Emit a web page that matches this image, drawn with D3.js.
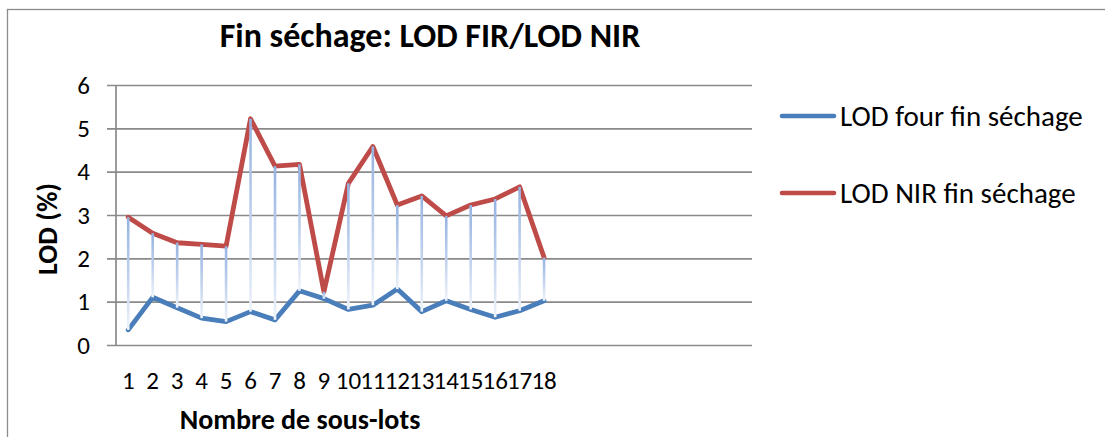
<!DOCTYPE html>
<html>
<head>
<meta charset="utf-8">
<script src="https://cdn.jsdelivr.net/npm/d3@7"></script>
<style>
  body { margin: 0; background: #fff; }
  svg { display: block; font-family: Carlito, Lato, "Liberation Sans", sans-serif; }
</style>
</head>
<body>
<div id="chartContainer"></div>
<script>
// Sous-lots 1..18 (the axis keeps 8 empty slots after them, like the Excel range)
const lots = ["1","2","3","4","5","6","7","8","9","10","11","12","13","14","15","16","17","18"];
const emptySlots = ["", "", "", "", "", "", "", ""];

const lodFour = [0.35, 1.10, 0.86, 0.62, 0.54, 0.77, 0.58, 1.25, 1.07, 0.82, 0.92, 1.29, 0.77, 1.02, 0.82, 0.64, 0.79, 1.02];
const lodNir  = [2.95, 2.58, 2.36, 2.32, 2.28, 5.22, 4.13, 4.17, 1.23, 3.73, 4.58, 3.23, 3.44, 2.98, 3.23, 3.37, 3.65, 2.02];

const yTicks = [0, 1, 2, 3, 4, 5, 6];
const seriesNames = ["LOD four fin séchage", "LOD NIR fin séchage"];
const seriesColors = ["#4a7ebb", "#be4b48"];

const W = 1105, H = 437;
const margin = { top: 85, left: 116, right: 353, bottom: 92 };
const width = W - margin.left - margin.right;
const height = H - margin.top - margin.bottom;

const svg = d3.select("#chartContainer")
  .append("svg")
  .attr("width", W)
  .attr("height", H);

// chart area border (cut on the right and bottom)
svg.append("rect")
  .attr("x", 7.5).attr("y", 9.5)
  .attr("width", W + 20).attr("height", H + 20)
  .attr("fill", "none")
  .attr("stroke", "#8c8c8c")
  .attr("stroke-width", 1.3);

const defs = svg.append("defs");
const grad = defs.append("linearGradient")
  .attr("id", "dropGrad")
  .attr("x1", 0).attr("y1", 0).attr("x2", 0).attr("y2", 1);
grad.append("stop").attr("offset", "0%").attr("stop-color", "#95b3e1");
grad.append("stop").attr("offset", "55%").attr("stop-color", "#c3d3ee");
grad.append("stop").attr("offset", "100%").attr("stop-color", "#eef3fa");

const g = svg.append("g").attr("transform", `translate(${margin.left}, ${margin.top})`);

const slots = lots.concat(emptySlots.map((d, i) => "_" + i));
const xScale = d3.scaleBand().domain(slots).range([0, width]).padding(0);
const yScale = d3.scaleLinear().domain([0, 6]).range([height, 0]);
const cx = (d, i) => xScale(lots[i]) + xScale.bandwidth() / 2;

// y axis with gridlines
const yAxis = g.append("g")
  .call(d3.axisLeft(yScale).tickValues(yTicks).tickSize(-width).tickPadding(26).tickFormat(d3.format("d")));
yAxis.select(".domain").remove();
yAxis.selectAll(".tick line")
  .attr("x1", -9)
  .attr("stroke", "#8a8a8a")
  .attr("stroke-width", 1.7);
yAxis.selectAll(".tick text")
  .attr("font-size", 25)
  .attr("fill", "#000")
  .attr("font-family", "Carlito, Lato, sans-serif");

g.append("line")
  .attr("x1", 0).attr("x2", 0)
  .attr("y1", 0).attr("y2", height)
  .attr("stroke", "#8a8a8a")
  .attr("stroke-width", 1.7);

// x axis labels
const xAxis = g.append("g")
  .attr("transform", `translate(0, ${height})`)
  .call(d3.axisBottom(xScale).tickSize(0).tickPadding(26).tickFormat(d => d.startsWith("_") ? "" : d));
xAxis.select(".domain").remove();
xAxis.selectAll(".tick text")
  .attr("font-size", 25)
  .attr("fill", "#000")
  .attr("font-family", "Carlito, Lato, sans-serif");

// series lines
const line = d3.line().x(cx).y(d => yScale(d));
[lodFour, lodNir].forEach((vals, k) => {
  g.append("path")
    .datum(vals)
    .attr("d", line)
    .attr("fill", "none")
    .attr("stroke", seriesColors[k])
    .attr("stroke-width", 4.8)
    .attr("stroke-linejoin", "round")
    .attr("stroke-linecap", "round");
});

// drop lines between the two series
g.selectAll(".drop")
  .data(lots)
  .enter()
  .append("rect")
  .attr("class", "drop")
  .attr("x", (d, i) => cx(d, i) - 1.3)
  .attr("y", (d, i) => yScale(Math.max(lodFour[i], lodNir[i])))
  .attr("width", 2.6)
  .attr("height", (d, i) => Math.abs(yScale(lodFour[i]) - yScale(lodNir[i])))
  .attr("fill", "url(#dropGrad)");

// title
svg.append("text")
  .attr("x", 430)
  .attr("y", 47)
  .attr("text-anchor", "middle")
  .attr("font-size", 34)
  .attr("font-weight", "bold")
  .text("Fin séchage: LOD FIR/LOD NIR");

// axis titles
svg.append("text")
  .attr("transform", `translate(57, ${margin.top + height / 2 + 14}) rotate(-90)`)
  .attr("text-anchor", "middle")
  .attr("font-size", 28)
  .attr("font-weight", "bold")
  .text("LOD (%)");

svg.append("text")
  .attr("x", 300)
  .attr("y", 429)
  .attr("text-anchor", "middle")
  .attr("font-size", 28)
  .attr("font-weight", "bold")
  .text("Nombre de sous-lots");

// legend
const legend = svg.append("g").attr("transform", "translate(780, 116)");
seriesNames.forEach((name, k) => {
  const row = legend.append("g").attr("transform", `translate(0, ${k * 77})`);
  row.append("line")
    .attr("x1", 2).attr("x2", 54)
    .attr("stroke", seriesColors[k])
    .attr("stroke-width", 4.6)
    .attr("stroke-linecap", "round");
  row.append("text")
    .attr("x", 60)
    .attr("y", 10)
    .attr("font-size", 29)
    .text(name);
});
</script>
</body>
</html>
